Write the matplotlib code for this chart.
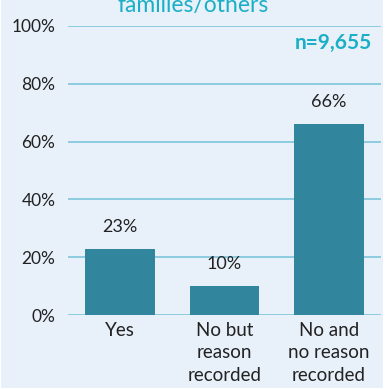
import matplotlib.pyplot as plt
from matplotlib.patches import Rectangle
from matplotlib.ticker import FixedLocator

plt.rcParams['font.family'] = ['Lato', 'DejaVu Sans']

categories = ['Yes', 'No but\nreason\nrecorded', 'No and\nno reason\nrecorded']
values = [23, 10, 66]
yticks = [0, 20, 40, 60, 80, 100]
title = 'families/others'
n_label = 'n=9,655'

bg = '#E8F0FA'
bar_color = '#31869D'
grid_color = '#86C9DD'
teal = '#1AAFC6'
txt = '#222222'

fig = plt.figure(figsize=(3.87, 3.89), dpi=100, facecolor='white')
# light panel behind the chart, thin white margin on the right/bottom
fig.patches.append(Rectangle((1 / 387, 1 / 389), 382 / 387, 388 / 389,
                             transform=fig.transFigure, facecolor=bg,
                             edgecolor='none', zorder=-10))

ax = fig.add_axes([68 / 387, 1 - 315 / 389, 313 / 387, 289 / 389])
ax.set_facecolor('none')

x = list(range(len(categories)))
ax.bar(x, values, width=0.67, color=bar_color, zorder=3)
for xi, v in zip(x, values):
    ax.annotate('{}%'.format(v), (xi, v), xytext=(0, 10), textcoords='offset points',
                ha='center', va='bottom', fontsize=13, color=txt)

ax.set_xlim(-0.5, 2.5)
ax.set_ylim(0, 100)
ax.yaxis.set_major_locator(FixedLocator(yticks))
ax.set_yticklabels(['{}%'.format(t) for t in yticks], fontsize=12.5, color=txt)
ax.set_xticks(x)
ax.set_xticklabels(categories, fontsize=13.5, color=txt, linespacing=1.38)
ax.tick_params(axis='x', length=0, pad=5)
ax.tick_params(axis='y', length=0, pad=9)
ax.grid(axis='y', color=grid_color, linewidth=1.3, zorder=0)
for s in ax.spines.values():
    s.set_visible(False)

fig.text(193 / 387, 1 - 12 / 389, title, ha='center', va='baseline', fontsize=16.5, color=teal)
fig.text(372 / 387, 1 - 49 / 389, n_label, ha='right', va='baseline', fontsize=15,
         fontweight='bold', color=teal)

fig.savefig('out.png', dpi=100, facecolor='white')
